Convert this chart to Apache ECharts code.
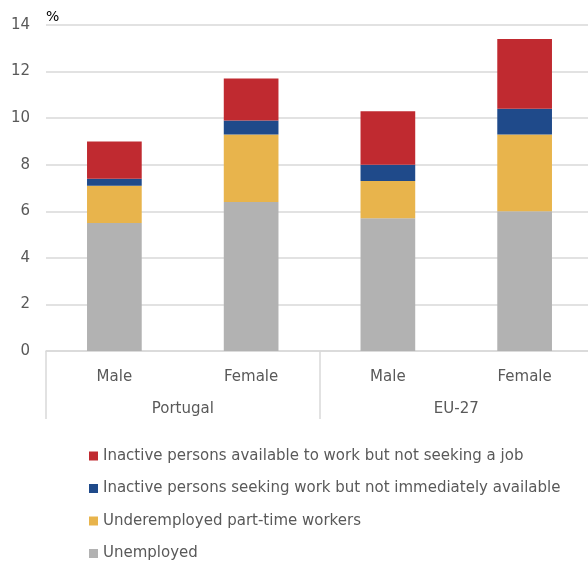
<!DOCTYPE html>
<html>
<head>
<meta charset="utf-8">
<script src="https://cdn.jsdelivr.net/npm/echarts@6/dist/echarts.min.js"></script>
<style>
html,body{margin:0;padding:0;background:#fff;overflow:hidden;}
#chart{width:593px;height:561px;}
</style>
</head>
<body>
<div id="chart"></div>
<script>
const categories = ['Male', 'Female', 'Male', 'Female'];
const groups = ['Portugal', 'EU-27'];
const seriesNames = [
  'Unemployed',
  'Underemployed part-time workers',
  'Inactive persons seeking work but not immediately available',
  'Inactive persons available to work but not seeking a job'
];
const unemployed = [5.5, 6.4, 5.7, 6.0];
const underemployed = [1.6, 2.9, 1.6, 3.3];
const seekingNotAvailable = [0.3, 0.6, 0.7, 1.1];
const availableNotSeeking = [1.6, 1.8, 2.3, 3.0];
const yTicks = { min: 0, max: 14, interval: 2 };
const colors = ['#B2B2B2', '#E8B44C', '#1F4A8A', '#C02A30'];

const FONT = "'DejaVu Sans', sans-serif";
const values = [unemployed, underemployed, seekingNotAvailable, availableNotSeeking];

const chart = echarts.init(document.getElementById('chart'), null, { renderer: 'canvas' });
chart.setOption({
  animation: false,
  textStyle: { fontFamily: FONT },
  grid: { left: 46, right: 0, top: 25, height: 326, containLabel: false },
  legend: {
    orient: 'vertical',
    left: 84,
    top: 442,
    height: 200,
    icon: 'rect',
    itemWidth: 9,
    itemHeight: 9,
    itemGap: 14.5,
    data: [seriesNames[3], seriesNames[2], seriesNames[1], seriesNames[0]],
    textStyle: { fontFamily: FONT, fontSize: 15, color: '#595959', lineHeight: 18 }
  },
  xAxis: [
    {
      type: 'category',
      data: categories,
      axisLine: { show: true, lineStyle: { color: '#D9D9D9', width: 1.5 } },
      axisTick: { show: false },
      axisLabel: { color: '#595959', fontSize: 15, fontFamily: FONT, margin: 19 }
    },
    {
      type: 'category',
      data: groups,
      position: 'bottom',
      axisLine: { show: false },
      axisTick: { show: true, length: 68, lineStyle: { color: '#D9D9D9', width: 1.5 } },
      axisLabel: { color: '#595959', fontSize: 15, fontFamily: FONT, margin: 51 }
    }
  ],
  yAxis: {
    type: 'value',
    min: yTicks.min,
    max: yTicks.max,
    interval: yTicks.interval,
    name: '%',
    nameLocation: 'end',
    nameGap: 1,
    nameTextStyle: { align: 'left', color: '#000', fontSize: 14, fontFamily: FONT },
    axisLine: { show: false },
    axisTick: { show: false },
    axisLabel: { color: '#595959', fontSize: 15, fontFamily: FONT, margin: 16 },
    splitLine: { lineStyle: { color: '#D9D9D9', width: 1.5 } }
  },
  series: seriesNames.map((name, i) => ({
    name,
    type: 'bar',
    stack: 'total',
    xAxisIndex: 0,
    barWidth: '40%',
    itemStyle: { color: colors[i] },
    emphasis: { disabled: true },
    data: values[i]
  }))
});
</script>
</body>
</html>
